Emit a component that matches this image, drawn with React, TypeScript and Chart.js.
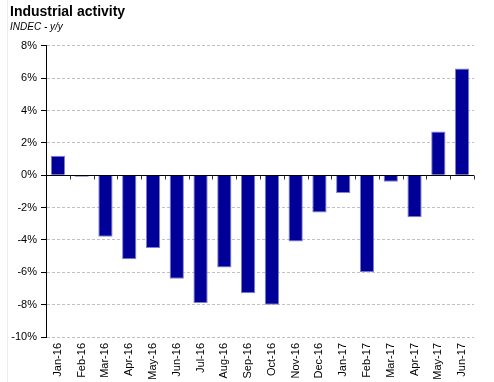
import React, { useEffect, useRef } from "react";
import { Chart, registerables } from "chart.js";

Chart.register(...registerables);

const categories = [
  "Jan-16", "Feb-16", "Mar-16", "Apr-16", "May-16", "Jun-16", "Jul-16", "Aug-16", "Sep-16",
  "Oct-16", "Nov-16", "Dec-16", "Jan-17", "Feb-17", "Mar-17", "Apr-17", "May-17", "Jun-17",
];
const industrialActivity = [
  1.2, -0.1, -3.8, -5.2, -4.5, -6.4, -7.9, -5.7, -7.3,
  -8.0, -4.1, -2.3, -1.1, -6.0, -0.4, -2.6, 2.7, 6.6,
];
const yMin = -10;
const yMax = 8;
const yStep = 2;
const titleText = "Industrial activity";
const subtitleText = "INDEC - y/y";

const framePlugin = {
  id: "frame",
  beforeDraw(chart: any) {
    const { ctx, height } = chart;
    ctx.save();
    ctx.strokeStyle = "#ececec";
    ctx.lineWidth = 1;
    ctx.beginPath();
    ctx.moveTo(7.5, 0);
    ctx.lineTo(7.5, height);
    ctx.stroke();
    ctx.restore();
  },
};

const zeroLinePlugin = {
  id: "zeroLine",
  afterDatasetsDraw(chart: any) {
    const { ctx, chartArea, scales } = chart;
    const y0 = Math.round(scales.y.getPixelForValue(0)) + 0.5;
    const xs = scales.x;
    ctx.save();
    ctx.setLineDash([]);
    ctx.strokeStyle = "#000";
    ctx.lineWidth = 1;
    ctx.beginPath();
    ctx.moveTo(chartArea.left, y0);
    ctx.lineTo(chartArea.right, y0);
    ctx.stroke();
    ctx.strokeStyle = "#333";
    const n = categories.length;
    for (let i = 1; i <= n; i++) {
      const xp = Math.round((xs.getPixelForValue(i - 1) + (i < n ? xs.getPixelForValue(i) : xs.getPixelForValue(i - 1) * 2 - xs.getPixelForValue(i - 2))) / 2) + 0.5;
      ctx.beginPath();
      ctx.moveTo(xp, y0);
      ctx.lineTo(xp, y0 + 4);
      ctx.stroke();
    }
    ctx.restore();
  },
};

export default function App() {
  const ref = useRef<HTMLCanvasElement>(null);
  useEffect(() => {
    if (!ref.current) return;
    const chart = new Chart(ref.current, {
      type: "bar",
      data: {
        labels: categories,
        datasets: [
          {
            label: "Industrial activity",
            data: industrialActivity,
            backgroundColor: "#000099",
            borderColor: "#8080d0",
            borderWidth: 1,
            barPercentage: 0.6,
            categoryPercentage: 1,
          },
        ],
      },
      options: {
        responsive: false,
        animation: false,
        devicePixelRatio: 1,
        layout: { padding: { left: 10, right: 20, top: 4, bottom: 0 } },
        plugins: {
          legend: { display: false },
          tooltip: { enabled: false },
          title: {
            display: true,
            text: titleText,
            align: "start",
            color: "#000",
            font: { family: "'Liberation Sans', Arial, sans-serif", size: 14, weight: "bold" },
            padding: { top: 0, bottom: 0 },
          },
          subtitle: {
            display: true,
            text: subtitleText,
            align: "start",
            color: "#000",
            font: { family: "'Liberation Sans', Arial, sans-serif", size: 10, style: "italic" },
            padding: { top: 0, bottom: 13 },
          },
        },
        scales: {
          x: {
            grid: { display: false, drawTicks: false },
            border: { display: false },
            ticks: {
              color: "#000",
              font: { family: "'Liberation Sans', Arial, sans-serif", size: 11 },
              minRotation: 90,
              maxRotation: 90,
              autoSkip: false,
              padding: 6,
            },
            afterFit(scale: any) {
              scale.height = 45;
            },
          },
          y: {
            min: yMin,
            max: yMax,
            ticks: {
              stepSize: yStep,
              color: "#000",
              font: { family: "'Liberation Sans', Arial, sans-serif", size: 11 },
              padding: 4,
              callback: (v: any) => `${v}%`,
            },
            grid: {
              color: "#c0c0c0",
              tickColor: "#000",
              tickLength: 5,
              tickBorderDash: [],
            },
            border: { display: true, color: "#000", width: 1, dash: [3, 2] },
            afterFit(scale: any) {
              scale.width = 36;
            },
          },
        },
      },
      plugins: [framePlugin, zeroLinePlugin],
    } as any);
    return () => chart.destroy();
  }, []);
  return (
    <div style={{ position: "fixed", left: 0, top: 0, width: 494, height: 382, background: "#fff" }}>
      <canvas ref={ref} width={494} height={382} style={{ display: "block" }} />
    </div>
  );
}
